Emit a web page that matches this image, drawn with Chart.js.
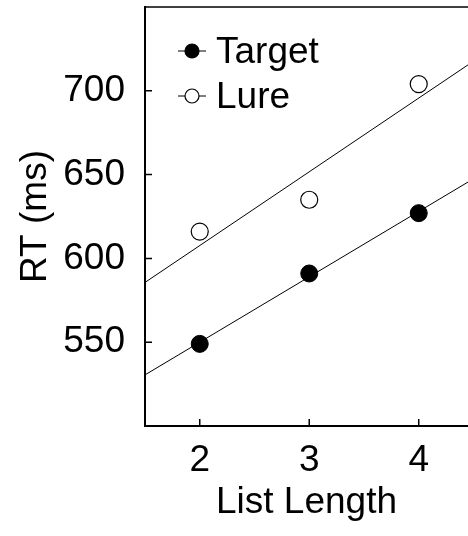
<!DOCTYPE html>
<html>
<head>
<meta charset="utf-8">
<script src="https://cdn.jsdelivr.net/npm/chart.js@4/dist/chart.umd.min.js"></script>
<style>
html, body { margin: 0; padding: 0; background: #fff; }
canvas { display: block; }
</style>
</head>
<body>
<canvas id="c" width="468" height="536"></canvas>
<script>
// ---- data ----
const listLengths = [2, 3, 4];
const targetRT = [549, 591, 627];
const lureRT = [616, 635, 704];
const xTicks = [2, 3, 4];
const yTicks = [550, 600, 650, 700];
const seriesNames = ['Target', 'Lure'];
const xTitle = 'List Length';
const yTitle = 'RT (ms)';
const xRange = [1.5, 4.45];
const yRange = [500, 750];

const FONT = "'Liberation Sans', Arial, Helvetica, sans-serif";

// least-squares fit lines computed from the series
function fitLine(xs, ys) {
  const n = xs.length;
  const mx = xs.reduce((s, v) => s + v, 0) / n;
  const my = ys.reduce((s, v) => s + v, 0) / n;
  let sxy = 0, sxx = 0;
  for (let i = 0; i < n; i++) { sxy += (xs[i] - mx) * (ys[i] - my); sxx += (xs[i] - mx) ** 2; }
  const b = sxy / sxx, a = my - b * mx;
  return xRange.map(x => ({ x: x, y: a + b * x }));
}
const pts = (xs, ys) => xs.map((x, i) => ({ x: x, y: ys[i] }));

const decor = {
  id: 'decor',
  afterDraw(chart) {
    const { ctx, chartArea: a, scales } = chart;
    const xs = scales.x, ys = scales.y;
    ctx.save();
    ctx.strokeStyle = '#000';
    // top frame line
    ctx.lineWidth = 1.5;
    ctx.beginPath();
    ctx.moveTo(a.left, a.top);
    ctx.lineTo(a.right, a.top);
    ctx.stroke();
    // inward tick marks
    ctx.lineWidth = 1.5;
    ctx.beginPath();
    xs.ticks.forEach(t => {
      const px = xs.getPixelForValue(t.value);
      ctx.moveTo(px, a.bottom);
      ctx.lineTo(px, a.bottom - 7);
    });
    ys.ticks.forEach(t => {
      const py = ys.getPixelForValue(t.value);
      ctx.moveTo(a.left, py);
      ctx.lineTo(a.left + 7, py);
    });
    ctx.stroke();
    // legend
    const rows = [
      { ds: chart.data.datasets[2], y: 51 },
      { ds: chart.data.datasets[3], y: 96 }
    ];
    rows.forEach(r => {
      ctx.lineWidth = 1;
      ctx.beginPath();
      ctx.moveTo(a.left + 33, r.y);
      ctx.lineTo(a.left + 61, r.y);
      ctx.stroke();
      ctx.beginPath();
      ctx.arc(a.left + 47, r.y, 7, 0, Math.PI * 2);
      ctx.fillStyle = r.ds.pointBackgroundColor;
      ctx.fill();
      ctx.lineWidth = 1.2;
      ctx.stroke();
      ctx.fillStyle = '#000';
      ctx.font = '37px ' + FONT;
      ctx.textAlign = 'left';
      ctx.textBaseline = 'middle';
      ctx.fillText(r.ds.label, a.left + 71, r.y + 2);
    });
    ctx.restore();
  }
};

new Chart(document.getElementById('c'), {
  type: 'scatter',
  data: {
    datasets: [
      { type: 'line', label: 'fitT', data: fitLine(listLengths, targetRT), borderColor: '#000', borderWidth: 1, pointRadius: 0, pointHoverRadius: 0, fill: false },
      { type: 'line', label: 'fitL', data: fitLine(listLengths, lureRT), borderColor: '#000', borderWidth: 1, pointRadius: 0, pointHoverRadius: 0, fill: false },
      { label: seriesNames[0], data: pts(listLengths, targetRT), pointRadius: 8.5, pointBackgroundColor: '#000', pointBorderColor: '#000', pointBorderWidth: 1, showLine: false },
      { label: seriesNames[1], data: pts(listLengths, lureRT), pointRadius: 8.5, pointBackgroundColor: '#fff', pointBorderColor: '#000', pointBorderWidth: 1.2, showLine: false }
    ]
  },
  options: {
    responsive: false,
    animation: false,
    devicePixelRatio: 1,
    events: [],
    layout: { autoPadding: false, padding: { top: 7, left: 0, right: 0, bottom: 0 } },
    plugins: { legend: { display: false }, tooltip: { enabled: false } },
    scales: {
      x: {
        type: 'linear', min: xRange[0], max: xRange[1],
        afterBuildTicks: s => { s.ticks = xTicks.map(v => ({ value: v })); },
        afterFit: s => { s.height = 110; s.paddingLeft = 0; s.paddingRight = 0; },
        grid: { display: false, drawTicks: false },
        border: { display: true, color: '#000', width: 2 },
        ticks: { color: '#000', font: { family: FONT, size: 37 }, padding: 13, callback: v => String(v) },
        title: { display: true, text: xTitle, color: '#000', font: { family: FONT, size: 37 }, padding: { top: 0, bottom: 11 } }
      },
      y: {
        type: 'linear', min: yRange[0], max: yRange[1],
        afterBuildTicks: s => { s.ticks = yTicks.map(v => ({ value: v })); },
        afterFit: s => { s.width = 145; s.paddingTop = 0; s.paddingBottom = 0; },
        grid: { display: false, drawTicks: false },
        border: { display: true, color: '#000', width: 2 },
        ticks: { color: '#000', font: { family: FONT, size: 37 }, padding: 20, callback: v => String(v) },
        title: { display: true, text: yTitle, color: '#000', font: { family: FONT, size: 37 }, padding: { top: 14, bottom: 0 } }
      }
    }
  },
  plugins: [decor]
});
</script>
</body>
</html>
